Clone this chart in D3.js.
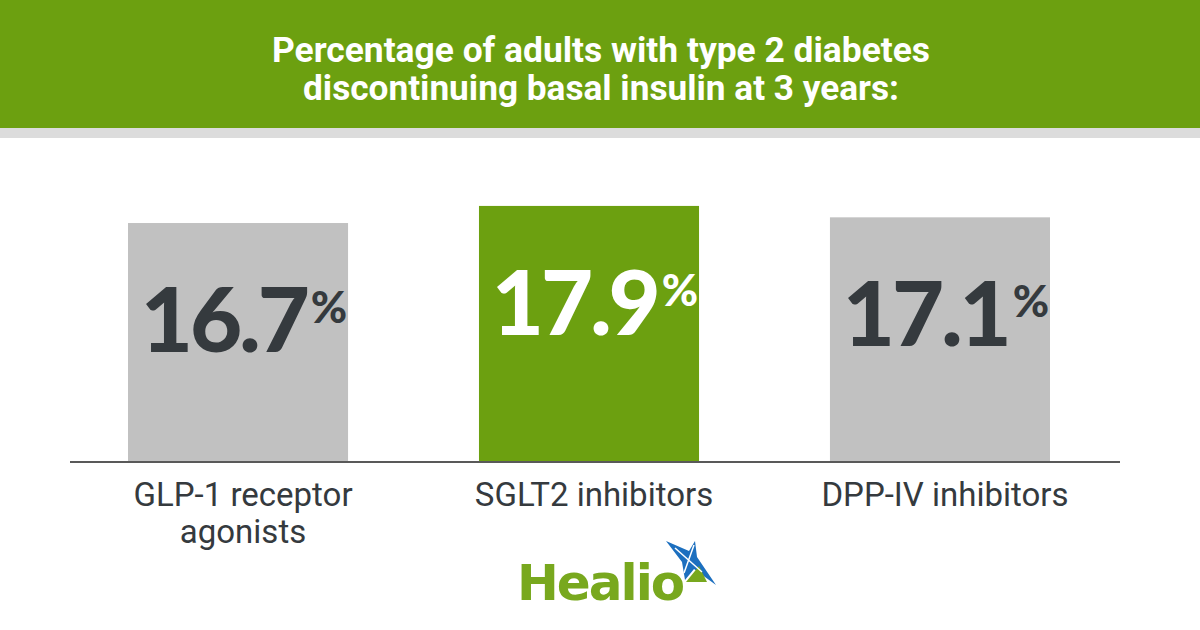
<!DOCTYPE html>
<html>
<head>
<meta charset="utf-8">
<script src="https://cdn.jsdelivr.net/npm/d3@7/dist/d3.min.js"></script>
<style>
  html, body { margin: 0; padding: 0; background: #fff; }
  svg { display: block; }
</style>
</head>
<body>
<svg id="chart" width="1200" height="630"></svg>
<script>
const categories = [['GLP-1 receptor', 'agonists'], ['SGLT2 inhibitors'], ['DPP-IV inhibitors']]
const values = [16.7, 17.9, 17.1]
const highlight = [false, true, false]
const titleLines = ['Percentage of adults with type 2 diabetes', 'discontinuing basal insulin at 3 years:']

const GREEN = '#6ca010'
const GREY = '#c1c1c1'
const DARK = '#353a3e'

const svg = d3.select('#chart')

// header
svg.append('rect').attr('x', 0).attr('y', 0).attr('width', 1200).attr('height', 128).style('fill', GREEN)
svg.append('rect').attr('x', 0).attr('y', 128).attr('width', 1200).attr('height', 10).style('fill', '#dcdcdc')

const titleWidths = [658, 596]
svg.append('g').selectAll('text')
  .data(titleLines)
  .enter()
  .append('text')
  .attr('x', 601)
  .attr('y', (d, i) => 62 + i * 38)
  .attr('text-anchor', 'middle')
  .attr('textLength', (d, i) => titleWidths[i])
  .attr('lengthAdjust', 'spacingAndGlyphs')
  .style('font-family', 'Roboto, sans-serif')
  .style('font-weight', 700)
  .style('font-size', '35px')
  .style('fill', '#fff')
  .text(d => d)

// scales
const idx = d3.range(values.length)
const x = d3.scaleBand()
  .domain(idx)
  .range([128, 1050])
  .paddingInner(0.373)
  .paddingOuter(0)

const y = d3.scaleLinear()
  .domain([0, 20])
  .range([461, 176])

// bars
const barg = svg.append('g').selectAll('g.bar')
  .data(idx)
  .enter()
  .append('g')
  .classed('bar', true)

barg.append('rect')
  .attr('x', i => x(i))
  .attr('y', i => y(values[i]))
  .attr('width', x.bandwidth())
  .attr('height', i => y(0) - y(values[i]))
  .style('fill', i => highlight[i] ? GREEN : GREY)

const vt = barg.append('text')
  .attr('x', i => x(i) + x.bandwidth() / 2 + 6)
  .attr('y', i => y(values[i]) + 129)
  .attr('text-anchor', 'middle')
  .style('font-family', 'Lato, sans-serif')
  .style('font-weight', 900)
  .style('letter-spacing', '-3px')
  .style('fill', i => highlight[i] ? '#fff' : DARK)

vt.append('tspan')
  .style('font-size', '90px')
  .text(i => d3.format('.1f')(values[i]))

vt.append('tspan')
  .attr('dx', 4)
  .attr('dy', -29)
  .style('font-size', '44px')
  .style('letter-spacing', '0px')
  .text('%')

// baseline
svg.append('line')
  .attr('x1', 70).attr('x2', 1120)
  .attr('y1', y(0) + 1).attr('y2', y(0) + 1)
  .style('stroke', '#222')
  .style('stroke-width', 1.5)

// category labels
const lab = svg.append('g').selectAll('text')
  .data(idx)
  .enter()
  .append('text')
  .attr('x', i => x(i) + x.bandwidth() / 2 + 5)
  .attr('y', 506)
  .attr('text-anchor', 'middle')
  .style('font-family', 'Roboto, sans-serif')
  .style('font-size', '33px')
  .style('fill', DARK)

lab.selectAll('tspan')
  .data(i => categories[i])
  .enter()
  .append('tspan')
  .attr('x', function() { return d3.select(this.parentNode).attr('x') })
  .attr('dy', (d, j) => j === 0 ? 0 : 37)
  .text(d => d)

// logo
const logo = svg.append('g')
logo.append('text')
  .attr('x', 517).attr('y', 600)
  .style('font-family', '"DejaVu Sans", sans-serif')
  .style('font-weight', 700)
  .style('font-size', '50px')
  .style('letter-spacing', '-2px')
  .style('fill', '#78a81e')
  .text('Healio')
logo.append('path')
  .attr('d', 'M666,541 L689,551 L695,541 L697,557 L716,585 L694,569 L685,580 L682,562 Z')
  .style('fill', '#1c6fbf')
logo.append('path')
  .attr('d', 'M686,582 L699,566 L707,582 Z')
  .style('fill', '#78a81e')
logo.append('path')
  .attr('d', 'M675,548 L702,572 M694,545 L684,573')
  .style('stroke', '#fff')
  .style('stroke-width', 1.5)
</script>
</body>
</html>
